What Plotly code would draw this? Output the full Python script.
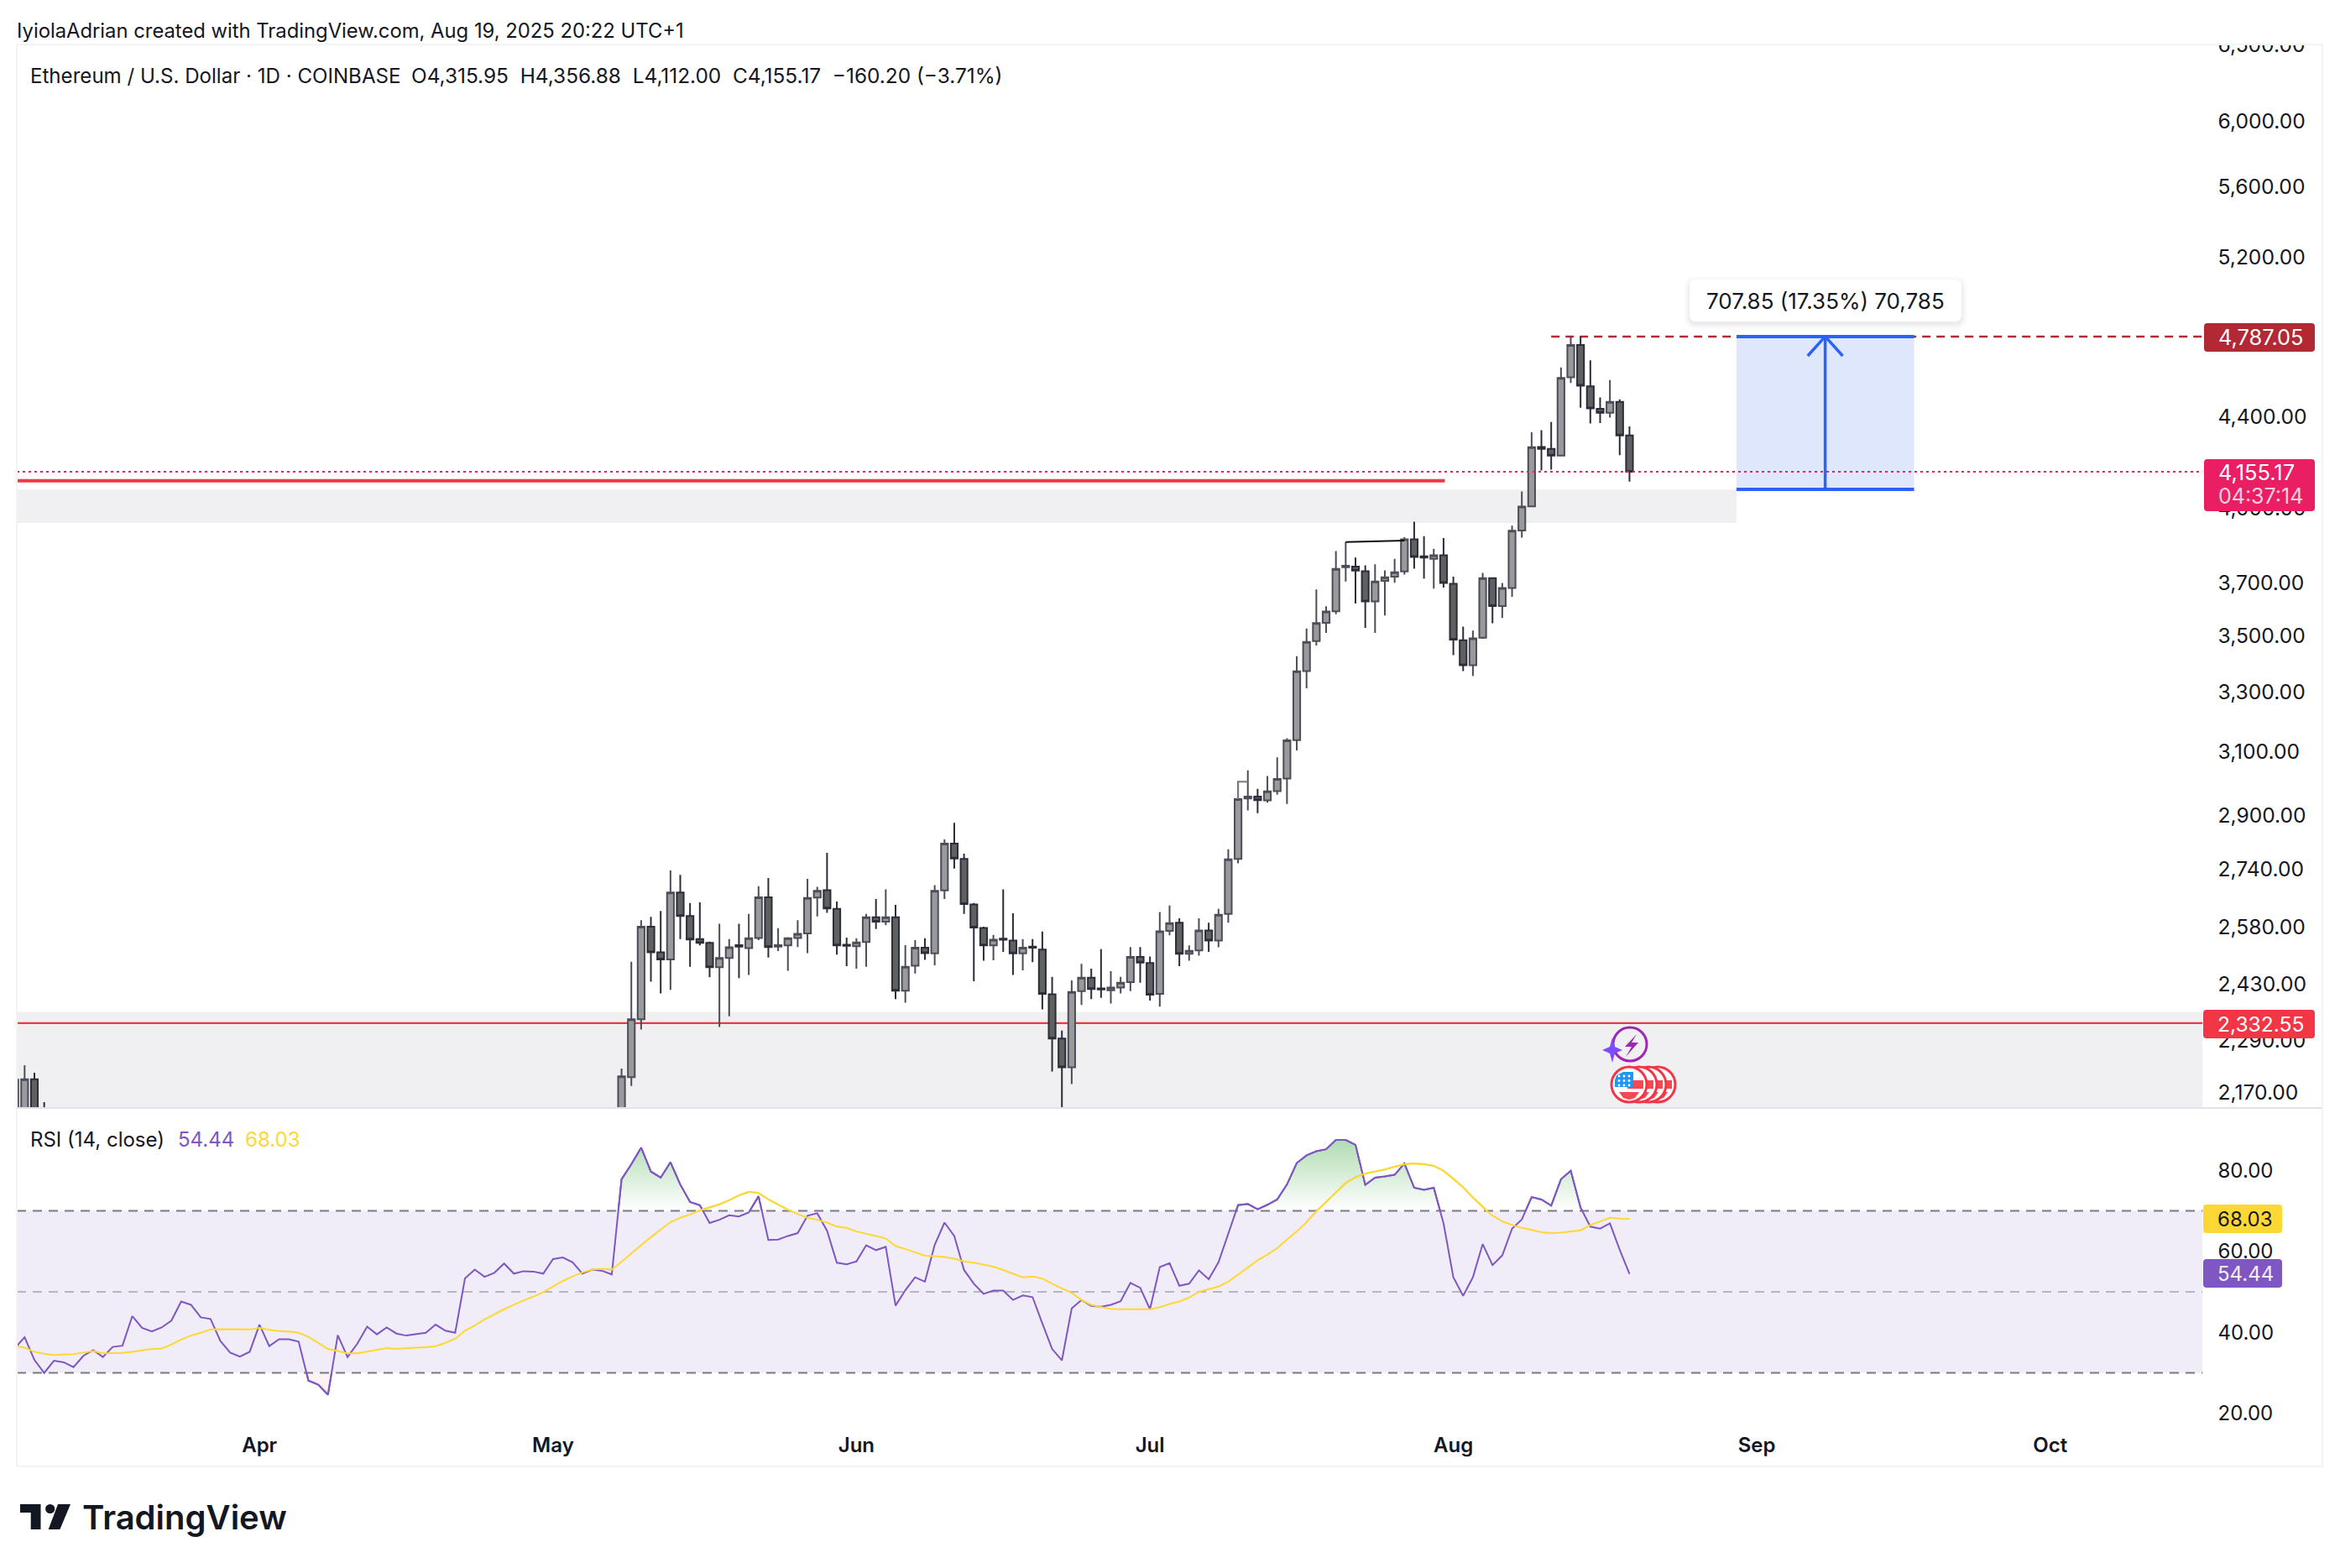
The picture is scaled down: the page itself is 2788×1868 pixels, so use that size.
import math
from datetime import date, timedelta
import plotly.graph_objects as go

W, H = 2788, 1868
FONT = "Inter"
INK = "#131722"

# ---------- price candles (visible ones) ----------
early_dates = ["2025-03-07", "2025-03-08", "2025-03-09", "2025-03-10"]
early_open = [2090, 2110, 2199, 2090]
early_high = [2230, 2232, 2214, 2147]
early_low = [2050, 2060, 2010, 1900]
early_close = [2198, 2199, 2020, 1920]

candle_start = date(2025, 5, 8)
opens = [1812, 2204, 2342, 2580, 2512, 2493, 2674, 2609, 2547, 2537, 2473, 2497, 2531, 2523, 2550, 2661, 2527, 2530, 2550, 2562, 2660, 2681, 2629, 2532,
         2528, 2539, 2606, 2594, 2606, 2413, 2477, 2524, 2509, 2680, 2815, 2770, 2641, 2577, 2530, 2548, 2543, 2509, 2527, 2519, 2404, 2295, 2227, 2412, 2446, 2419, 2414, 2421, 2435, 2500,
         2484, 2405, 2569, 2591, 2508, 2517, 2570, 2543, 2615, 2770, 2951, 2957, 2945, 2974, 3013, 3137, 3372, 3480, 3547, 3590, 3760, 3762, 3744, 3627, 3706, 3723, 3743, 3871, 3803, 3793, 3807,
         3695, 3483, 3393, 3492, 3717, 3610, 3679, 3907, 4007, 4264, 4256, 4226, 4587, 4745, 4544, 4438, 4420, 4470, 4315.95]
highs = [2224, 2487, 2598, 2607, 2623, 2737, 2724, 2645, 2647, 2540, 2588, 2547, 2588, 2615, 2692, 2715, 2576, 2552, 2598, 2713, 2690, 2788, 2649, 2551,
         2549, 2615, 2656, 2683, 2640, 2531, 2544, 2549, 2695, 2827, 2877, 2785, 2645, 2580, 2558, 2683, 2617, 2547, 2547, 2567, 2448, 2314, 2439, 2482, 2469, 2520, 2463, 2448, 2526, 2526,
         2501, 2620, 2638, 2603, 2530, 2603, 2591, 2629, 2798, 3003, 3039, 2981, 3021, 3081, 3143, 3425, 3526, 3673, 3609, 3824, 3860, 3798, 3767, 3771, 3747, 3793, 3880, 3943, 3884, 3833, 3876,
         3723, 3533, 3518, 3737, 3720, 3698, 3927, 4070, 4330, 4340, 4377, 4634, 4787, 4787, 4669, 4491, 4574, 4482, 4356.88]
lows = [1790, 2184, 2317, 2436, 2406, 2415, 2547, 2474, 2530, 2447, 2323, 2349, 2445, 2453, 2544, 2498, 2515, 2464, 2526, 2510, 2608, 2618, 2506, 2476,
        2469, 2474, 2574, 2584, 2392, 2383, 2457, 2492, 2478, 2656, 2742, 2615, 2437, 2490, 2491, 2513, 2453, 2465, 2486, 2366, 2217, 2110, 2188, 2377, 2392, 2395, 2381, 2406, 2412, 2433,
        2388, 2373, 2557, 2476, 2490, 2503, 2513, 2525, 2591, 2757, 2914, 2906, 2938, 2963, 2934, 3103, 3312, 3464, 3510, 3579, 3704, 3619, 3528, 3510, 3574, 3699, 3731, 3754, 3715, 3676, 3680,
        3429, 3372, 3355, 3488, 3545, 3565, 3645, 3878, 4005, 4160, 4164, 4224, 4560, 4443, 4370, 4372, 4397, 4228, 4112.00]
closes = [2206, 2342, 2580, 2512, 2493, 2674, 2609, 2546, 2537, 2473, 2497, 2525, 2527, 2549, 2661, 2526, 2531, 2549, 2561, 2659, 2679, 2630, 2530, 2529,
          2538, 2606, 2594, 2606, 2413, 2474, 2524, 2510, 2679, 2815, 2771, 2642, 2578, 2530, 2545, 2545, 2509, 2524, 2524, 2405, 2295, 2227, 2410, 2446, 2417, 2416, 2421, 2433, 2500, 2485,
          2403, 2568, 2590, 2508, 2516, 2570, 2543, 2613, 2769, 2949, 2957, 2946, 2973, 3012, 3136, 3371, 3477, 3546, 3589, 3753, 3765, 3746, 3627, 3704, 3720, 3740, 3871, 3800, 3798, 3807, 3698,
          3485, 3393, 3490, 3717, 3610, 3679, 3906, 4006, 4263, 4256, 4226, 4584, 4745, 4547, 4440, 4420, 4470, 4316, 4155.17]
candle_dates = [(candle_start + timedelta(days=i)).isoformat() for i in range(len(opens))]

# ---------- RSI ----------
rsi_start = date(2025, 3, 7)
rsi_mar = [36.1, 38.8, 33.2, 30.0, 33.0, 32.6, 31.4, 34.2, 35.6, 33.9, 36.4, 36.7, 44.0, 41.1, 40.2, 41.2, 42.9, 47.6, 46.8, 43.7, 43.3, 37.9, 35.0, 34.0, 35.2]
rsi_apr = [41.9, 36.6, 38.3, 38.3, 37.7, 28.1, 27.1, 24.6, 39.3, 33.9, 37.2, 41.4, 39.5, 41.2, 39.7, 39.2, 39.6, 39.9, 41.9, 40.4, 39.9, 53.3, 55.5, 53.7, 54.7, 57.0, 54.5, 55.1, 55.0, 54.5]
rsi_may = [58.1, 58.5, 57.3, 54.5, 55.5, 55.2, 54.3, 77.8, 81.5, 85.6, 79.7, 78.2, 82.0, 76.5, 72.2, 71.4, 67.0, 67.8, 68.9, 68.6, 69.6, 73.6, 62.8, 62.9, 63.8, 64.5, 68.8, 69.4, 65.1, 57.2, 56.8]
rsi_jun = [57.5, 61.5, 60.3, 61.1, 46.6, 50.4, 53.6, 52.5, 61.6, 67.1, 63.8, 55.4, 52.0, 49.5, 50.3, 50.3, 48.0, 49.1, 48.7, 42.2, 35.9, 33.1, 45.9, 48.0, 46.5, 46.3, 46.8, 47.7, 52.2, 51.0]
rsi_jul = [45.7, 56.1, 57.1, 51.5, 52.0, 55.3, 53.1, 57.3, 64.3, 71.4, 71.7, 70.4, 71.5, 72.8, 76.5, 81.8, 83.7, 84.7, 85.2, 87.5, 87.5, 86.3, 76.4, 78.2, 78.5, 78.9, 81.7, 75.7, 75.2, 75.7, 66.9]
rsi_aug = [53.6, 49.0, 53.6, 61.8, 56.6, 59.0, 65.6, 67.9, 73.4, 72.8, 71.3, 77.8, 79.9, 70.8, 66.1, 65.6, 66.9, 60.4, 54.44]

ma_mar = [36.7, 36.2, 35.2, 34.7, 34.4, 34.5, 34.6, 35.0, 35.4, 34.8, 34.9, 34.9, 35.2, 35.5, 35.9, 36.0, 37.0, 38.2, 39.2, 39.9, 40.7, 40.8, 40.8, 40.7, 40.7]
ma_apr = [41.1, 40.6, 40.3, 40.2, 39.9, 38.9, 37.4, 35.9, 35.4, 34.8, 34.8, 35.2, 35.7, 36.1, 35.9, 36.1, 36.2, 36.3, 36.6, 37.4, 38.4, 40.4, 41.7, 43.2, 44.5, 45.7, 46.8, 47.9, 48.8, 49.9]
ma_may = [51.3, 52.7, 53.8, 54.8, 55.5, 55.7, 55.5, 57.4, 59.5, 61.6, 63.5, 65.4, 67.2, 68.3, 69.1, 70.1, 70.8, 71.6, 72.6, 73.8, 74.7, 74.4, 72.8, 71.5, 70.3, 69.2, 68.3, 67.8, 67.1, 66.1, 65.8]
ma_jun = [64.9, 64.4, 63.8, 63.2, 61.3, 60.6, 59.8, 58.9, 58.8, 58.6, 58.2, 57.5, 57.2, 56.7, 56.2, 55.4, 54.5, 53.6, 53.8, 53.3, 52.0, 50.8, 49.7, 48.0, 46.8, 46.2, 45.8, 45.7, 45.7, 45.8]
ma_jul = [45.7, 46.2, 47.0, 47.6, 48.6, 50.0, 50.6, 51.3, 52.5, 54.3, 56.1, 57.8, 59.2, 60.8, 62.9, 64.9, 67.2, 69.9, 72.2, 74.5, 76.9, 78.3, 79.2, 79.7, 80.2, 80.9, 81.5, 81.7, 81.5, 81.1, 79.9]
ma_aug = [77.9, 75.8, 73.3, 70.9, 68.8, 67.4, 66.5, 65.8, 65.3, 64.7, 64.5, 64.6, 64.9, 65.2, 66.5, 67.4, 68.3, 68.1, 68.03]

rsi = rsi_mar + rsi_apr + rsi_may + rsi_jun + rsi_jul + rsi_aug
rsi_ma = ma_mar + ma_apr + ma_may + ma_jun + ma_jul + ma_aug
rsi_dates = [(rsi_start + timedelta(days=i)).isoformat() for i in range(len(rsi))]

# ---------- axis labels and levels ----------
price_ticks = [6500, 6000, 5600, 5200, 4400, 4000, 3700, 3500, 3300, 3100, 2900, 2740, 2580, 2430, 2290, 2170]
rsi_ticks = [80, 60, 40, 20]
month_ticks = ["2025-04-01", "2025-05-01", "2025-06-01", "2025-07-01", "2025-08-01", "2025-09-01", "2025-10-01"]
month_labels = ["Apr", "May", "Jun", "Jul", "Aug", "Sep", "Oct"]

target_price = 4787.05
base_price = 4079.20
last_price = 4155.17
support_price = 2332.55
resistance_price = 4115.6
upper_zone = (3938, 4078)
lower_zone = (2000, 2360)
band_high, band_mid, band_low = 70, 50, 30

# ---------- layout geometry (pixels) ----------
L, R, OUT = 20, 2624.5, 2767
TOP, MAIN_B, RSI_T, RSI_B, FRAME_B = 53, 1320, 1322, 1702, 1747
Y70 = 1442.5


def px(x):
    return x / W


def py(y):
    return 1 - y / H


def log_y(y):
    return math.exp(8.6995 - (y - 144) / 1137.6)


def rsi_at(y):
    return 70 - (y - Y70) / 4.825


Y30 = Y70 + 40 * 4.825


def round_rect(x0, y0, x1, y1, r, fill, line=None):
    a, b, c, d = px(x0), py(y0), px(x1), py(y1)
    rx, ry = r / W, r / H
    path = (f"M{a+rx},{b} L{c-rx},{b} Q{c},{b} {c},{b-ry} L{c},{d+ry} Q{c},{d} {c-rx},{d} "
            f"L{a+rx},{d} Q{a},{d} {a},{d+ry} L{a},{b-ry} Q{a},{b} {a+rx},{b} Z")
    return dict(type="path", xref="paper", yref="paper", path=path, fillcolor=fill,
                line=dict(width=0 if line is None else 1, color=line or fill), layer="above")


def poly(points, fill):
    path = "M" + " L".join(f"{px(x)},{py(y)}" for x, y in points) + " Z"
    return dict(type="path", xref="paper", yref="paper", path=path, fillcolor=fill, line=dict(width=0), layer="above")


def disc(cx, cy, r, fill, line=None, lw=0):
    return dict(type="circle", xref="paper", yref="paper", x0=px(cx - r), x1=px(cx + r), y0=py(cy + r), y1=py(cy - r),
                fillcolor=fill, line=dict(width=lw, color=line or fill), layer="above")


def frame_line(x0, y0, x1, y1, color):
    return dict(type="line", xref="paper", yref="paper", x0=px(x0), x1=px(x1), y0=py(y0), y1=py(y1),
                line=dict(color=color, width=2), layer="above")


def label(x, y, text, color=INK, size=24, weight=None, anchor="left"):
    font = dict(family=FONT, size=size, color=color)
    if weight:
        font["weight"] = weight
    return dict(xref="paper", yref="paper", x=px(x), y=py(y), text=text, showarrow=False,
                xanchor=anchor, yanchor="middle", font=font, borderpad=0)


fig = go.Figure()

fig.add_trace(go.Candlestick(
    x=early_dates + candle_dates,
    open=early_open + opens, high=early_high + highs, low=early_low + lows, close=early_close + closes,
    increasing=dict(fillcolor="#9a9a9c", line=dict(color="#4b4d59", width=2)),
    decreasing=dict(fillcolor="#5f6060", line=dict(color="#2b2e3a", width=2)),
    xaxis="x", yaxis="y", showlegend=False, hoverinfo="skip"))

# the two thin drawn connectors by the July candles
fig.add_trace(go.Scatter(x=["2025-07-21", "2025-07-27"], y=[3860, 3866], mode="lines",
                         line=dict(color="#111111", width=2), xaxis="x", yaxis="y", showlegend=False, hoverinfo="skip"))
fig.add_trace(go.Scatter(x=["2025-07-10", "2025-07-10", "2025-07-11"], y=[2949, 3003, 3003], mode="lines",
                         line=dict(color="#77797f", width=2), xaxis="x", yaxis="y", showlegend=False, hoverinfo="skip"))

# RSI and its moving average
fig.add_trace(go.Scatter(x=rsi_dates, y=rsi, mode="lines", line=dict(color="#7e57c2", width=2),
                         xaxis="x2", yaxis="y2", showlegend=False, hoverinfo="skip"))
fig.add_trace(go.Scatter(x=rsi_dates, y=rsi_ma, mode="lines", line=dict(color="#fdd835", width=2),
                         xaxis="x2", yaxis="y2", showlegend=False, hoverinfo="skip"))
# overbought fill: a clipped pane above the 70 level
fig.add_trace(go.Scatter(x=rsi_dates, y=rsi, mode="lines", line=dict(color="#7e57c2", width=2), fill="tozeroy",
                         fillgradient=dict(type="vertical", start=70, stop=90,
                                           colorscale=[[0, "rgba(76,175,80,0.0)"], [1, "rgba(76,175,80,0.5)"]]),
                         xaxis="x2", yaxis="y3", showlegend=False, hoverinfo="skip"))
fig.add_trace(go.Scatter(x=rsi_dates, y=rsi_ma, mode="lines", line=dict(color="#fdd835", width=2),
                         xaxis="x2", yaxis="y3", showlegend=False, hoverinfo="skip"))
# oversold fill: a clipped pane below the 30 level
fig.add_trace(go.Scatter(x=rsi_dates, y=[100] * len(rsi_dates), mode="lines", line=dict(width=0),
                         xaxis="x2", yaxis="y4", showlegend=False, hoverinfo="skip"))
fig.add_trace(go.Scatter(x=rsi_dates, y=rsi, mode="lines", line=dict(color="#7e57c2", width=2), fill="tonexty",
                         fillcolor="rgba(242,54,69,0.06)", xaxis="x2", yaxis="y4", showlegend=False, hoverinfo="skip"))

x_left, x_right = "2025-03-07 04:48", "2025-10-16 14:00"
box_left, box_right, box_mid = "2025-08-29 22:20", "2025-09-17 02:00", "2025-09-08 00:00"

shapes = []
# grey zones
shapes.append(dict(type="rect", xref="x", yref="y", x0=x_left, x1=box_left, y0=upper_zone[0], y1=upper_zone[1],
                   fillcolor="#f0f0f2", line=dict(width=0), layer="below"))
shapes.append(dict(type="rect", xref="x", yref="y", x0=x_left, x1=x_right, y0=lower_zone[0], y1=lower_zone[1],
                   fillcolor="#f0f0f2", line=dict(width=0), layer="below"))
# date & price range tool
shapes.append(dict(type="rect", xref="x", yref="y", x0=box_left, x1=box_right, y0=base_price, y1=target_price,
                   fillcolor="#dfe7fd", line=dict(width=0), layer="below"))
# levels
shapes.append(dict(type="line", xref="x", yref="y", x0=x_left, x1="2025-07-31 03:00", y0=resistance_price, y1=resistance_price,
                   line=dict(color="#f23645", width=4), layer="above"))
shapes.append(dict(type="line", xref="x", yref="y", x0=x_left, x1=x_right, y0=support_price, y1=support_price,
                   line=dict(color="#f23645", width=2.2), layer="below"))
shapes.append(dict(type="line", xref="x", yref="y", x0="2025-08-11", x1=x_right, y0=target_price, y1=target_price,
                   line=dict(color="#b22833", width=2.5, dash="10px,7px"), layer="below"))
shapes.append(dict(type="line", xref="x", yref="y", x0=x_left, x1=x_right, y0=last_price, y1=last_price,
                   line=dict(color="#e91e63", width=2, dash="3px,4px"), layer="above"))
for level in (target_price, base_price):
    shapes.append(dict(type="line", xref="x", yref="y", x0=box_left, x1=box_right, y0=level, y1=level,
                       line=dict(color="#2962ff", width=4), layer="above"))
shapes.append(dict(type="line", xref="x", yref="y", x0=box_mid, x1=box_mid, y0=base_price, y1=target_price,
                   line=dict(color="#2962ff", width=3.5), layer="above"))
shapes.append(dict(type="line", xref="x", yref="y", x0="2025-09-06 05:00", x1=box_mid, y0=log_y(424), y1=target_price,
                   line=dict(color="#2962ff", width=3.5), layer="above"))
shapes.append(dict(type="line", xref="x", yref="y", x0="2025-09-09 19:00", x1=box_mid, y0=log_y(424), y1=target_price,
                   line=dict(color="#2962ff", width=3.5), layer="above"))

# RSI band
shapes.append(dict(type="rect", xref="x2", yref="y2", x0=x_left, x1=x_right, y0=band_low, y1=band_high,
                   fillcolor="#f0edf9", line=dict(width=0), layer="below"))
for level, col in [(band_high, "#787b86"), (band_low, "#787b86"), (band_mid, "#b7b7be")]:
    shapes.append(dict(type="line", xref="x2", yref="y2", x0=x_left, x1=x_right, y0=level, y1=level,
                       line=dict(color=col, width=2, dash="11px,8px"), layer="below"))

# covers the axis label that runs past the frame top
shapes.append(dict(type="rect", xref="paper", yref="paper", x0=px(2626), x1=px(2766), y0=py(52), y1=py(20),
                   fillcolor="white", line=dict(width=0), layer="above"))

# frame
shapes += [frame_line(L, TOP, OUT, TOP, "#f3f3f4"), frame_line(L, TOP, L, FRAME_B, "#f3f3f4"),
           frame_line(OUT, TOP, OUT, FRAME_B, "#f3f3f4"), frame_line(L, FRAME_B, OUT, FRAME_B, "#f3f3f4"),
           frame_line(L, MAIN_B, OUT, MAIN_B, "#e0e3eb")]

# price labels
shapes.append(round_rect(2626, 385, 2758, 419, 4, "#b22833"))
shapes.append(round_rect(2626, 547, 2758, 609, 4, "#e91e63"))
shapes.append(round_rect(2625, 1203, 2758, 1237, 4, "#f23645"))
shapes.append(round_rect(2625, 1435, 2719, 1469, 4, "#fdd835"))
shapes.append(round_rect(2625, 1500, 2719, 1534, 4, "#7e57c2"))

# range callout with soft shadow
for grow, alpha in [(7, 0.012), (5, 0.015), (3, 0.02), (1, 0.03)]:
    shapes.append(round_rect(2013 - grow, 333 - grow + 3, 2337 + grow, 383 + grow + 3, 8 + grow, f"rgba(19,23,34,{alpha})"))
shapes.append(round_rect(2013, 333, 2337, 383, 8, "white"))

# event icons: purple bolt
shapes.append(disc(1942, 1244, 20, "rgba(255,255,255,0)", "#9c27b0", 3))
shapes.append(poly([(1950, 1232), (1936, 1247), (1944, 1247), (1937, 1259), (1952, 1242), (1944, 1242)], "#9c27b0"))
shapes.append(poly([(1921, 1236), (1924, 1247), (1933, 1251), (1924, 1255), (1921, 1266), (1918, 1255), (1909, 1251), (1918, 1247)], "#7c4dff"))
# event icons: flag coins, back to front
for cx in (1975, 1964, 1953, 1941):
    shapes.append(disc(cx, 1292, 21, "white", "#f23645", 3))
    shapes.append(poly([(cx - 2, 1287), (cx + 17, 1287), (cx + 17, 1297), (cx - 2, 1297)], "#f5484f"))
    shapes.append(poly([(cx - 12, 1301), (cx + 12, 1301), (cx + 7, 1308), (cx, 1310), (cx - 7, 1308)], "#f5484f"))
shapes.append(poly([(1926, 1281), (1934, 1277), (1946, 1277), (1946, 1295), (1924, 1295), (1924, 1287)], "#2196f3"))
for ix in range(3):
    for iy in range(3):
        shapes.append(disc(1929 + ix * 6, 1282 + iy * 5.5, 1.4, "white"))

# TradingView logo
shapes.append(poly([(24, 1792), (48.5, 1792), (48.5, 1822), (36.7, 1822), (36.7, 1802), (24, 1802)], INK))
shapes.append(poly([(69, 1792), (84, 1792), (71.4, 1822), (57.7, 1822)], INK))
shapes.append(disc(59.7, 1797.5, 5.6, INK))

annotations = [
    label(19, 36, "IyiolaAdrian created with TradingView.com, Aug 19, 2025 20:22 UTC+1", size=23.8),
    label(35, 90, "Ethereum / U.S. Dollar · 1D · COINBASE", size=24.1),
    label(489, 90, "O4,315.95\u00a0\u00a0H4,356.88\u00a0\u00a0L4,112.00\u00a0\u00a0C4,155.17\u00a0\u00a0−160.20 (−3.71%)", size=24.4),
    label(35, 1357, "RSI (14, close)"),
    label(211, 1357, "54.44", "#7e57c2"),
    label(291, 1357, "68.03", "#fdd835"),
    label(2175, 358, "707.85 (17.35%) 70,785", size=26, anchor="center"),
    label(2642, 402, "4,787.05", "white", 25.4),
    label(2642, 562, "4,155.17", "white", 25.4),
    label(2642, 591, "04:37:14", "#fbd0df", 25),
    label(2641, 1220, "2,332.55", "white", 24.6),
    label(2641, 1452, "68.03", INK),
    label(2641, 1517, "54.44", "#f3eefb"),
    label(97, 1807, "TradingView", INK, 40, 600),
]

price_font = dict(family=FONT, size=24.6, color=INK)
rsi_font = dict(family=FONT, size=24, color=INK)
common_x = dict(type="date", range=[x_left, x_right], showgrid=False, zeroline=False, rangeslider=dict(visible=False),
                domain=[px(L), px(R)])

fig.update_layout(
    width=W, height=H, margin=dict(l=0, r=0, t=0, b=0, autoexpand=False), paper_bgcolor="white", plot_bgcolor="rgba(0,0,0,0)",
    showlegend=False, shapes=shapes, annotations=annotations, font=dict(family=FONT, color=INK),
    boxgap=0.3, boxgroupgap=0,
    xaxis=dict(common_x, anchor="y", showticklabels=False, ticks="", showline=False),
    xaxis2=dict(common_x, anchor="y2", matches="x", tickmode="array", tickvals=month_ticks, ticktext=month_labels,
                tickfont=dict(family=FONT, size=24, color=INK, weight=600), ticks="", showline=False, ticklabelstandoff=3),
    yaxis=dict(type="log", range=[math.log10(log_y(MAIN_B)), math.log10(log_y(TOP))], domain=[py(MAIN_B), py(TOP)],
               anchor="x", side="right", tickmode="array", tickvals=price_ticks,
               ticktext=[f"{v:,.2f}" for v in price_ticks], tickfont=price_font, showgrid=False, zeroline=False,
               ticks="", ticklabelstandoff=17, ticklabeloverflow="allow"),
    yaxis2=dict(range=[rsi_at(RSI_B), rsi_at(RSI_T)], domain=[py(RSI_B), py(RSI_T)], anchor="x2", side="right",
                tickmode="array", tickvals=rsi_ticks, ticktext=[f"{v:.2f}" for v in rsi_ticks], tickfont=rsi_font,
                showgrid=False, zeroline=False, ticks="", ticklabelstandoff=17, ticklabeloverflow="allow"),
    yaxis3=dict(range=[70, rsi_at(RSI_T)], domain=[py(Y70), py(RSI_T)], anchor="x2", visible=False, side="right"),
    yaxis4=dict(range=[rsi_at(RSI_B), 30], domain=[py(RSI_B), py(Y30)], anchor="x2", visible=False, side="right"),
)

fig.write_html("out.html", post_script="document.body.style.margin='0';document.body.style.overflow='hidden';",
               config={"displayModeBar": False})
